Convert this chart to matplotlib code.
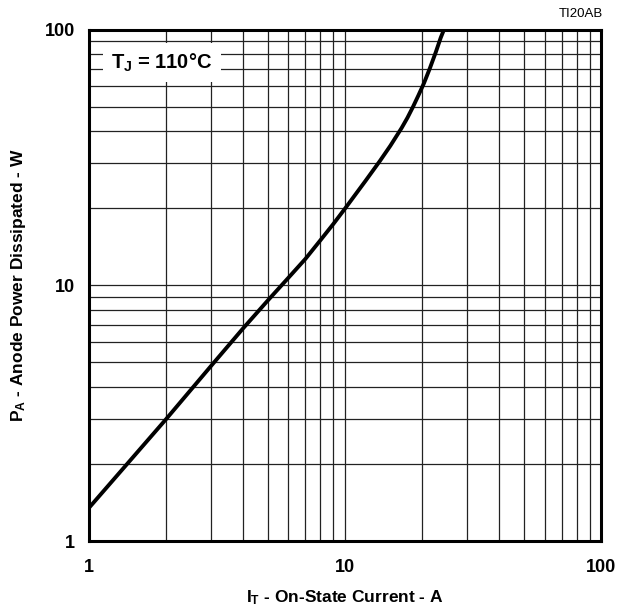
"""
Anode power dissipated vs on-state current (TI20AB), log-log chart.
"""

import matplotlib
matplotlib.use('Agg')
import matplotlib.pyplot as plt
from matplotlib.ticker import LogLocator, FixedFormatter, FixedLocator, NullFormatter

# Data
on_state_current = [1, 2, 3, 4, 5, 6, 7, 8, 9, 10, 12, 13.65, 15, 16.6, 17.5, 18.4,
                    19.3, 20.3, 21.4, 22.6, 23.6, 24.5]
power_dissipated = [1.35, 3.0, 4.85, 6.8, 8.75, 10.7, 12.7, 15.0, 17.4, 20.0, 25.6, 30.6,
                    35.1, 41.2, 45.2, 49.9, 55.2, 61.7, 70.5, 81.8, 92.9, 102]

x_ticks = [1, 10, 100]
x_tick_labels = ['1', '10', '100']
y_ticks = [1, 10, 100]
y_tick_labels = ['1', '10', '100']

FONT = 'Liberation Sans'
plt.rcParams['font.family'] = [FONT, 'DejaVu Sans']
plt.rcParams['mathtext.fontset'] = 'custom'
plt.rcParams['mathtext.rm'] = f'{FONT}:bold'
plt.rcParams['mathtext.it'] = f'{FONT}:bold'
plt.rcParams['mathtext.bf'] = f'{FONT}:bold'

fig = plt.figure(figsize=(6.2, 6.15), dpi=100)
ax = fig.add_axes([0.1435, 0.12, 0.8265, 0.832])

ax.set_xscale('log')
ax.set_yscale('log')
ax.set_xlim(1, 100)
ax.set_ylim(1, 100)

# grid: decades plus 2..9 subdivisions
ax.xaxis.set_major_locator(FixedLocator(x_ticks))
ax.yaxis.set_major_locator(FixedLocator(y_ticks))
ax.xaxis.set_major_formatter(FixedFormatter(x_tick_labels))
ax.yaxis.set_major_formatter(FixedFormatter(y_tick_labels))
ax.xaxis.set_minor_locator(LogLocator(base=10, subs=range(2, 10)))
ax.yaxis.set_minor_locator(LogLocator(base=10, subs=range(2, 10)))
ax.xaxis.set_minor_formatter(NullFormatter())
ax.yaxis.set_minor_formatter(NullFormatter())
ax.grid(True, which='both', color='#222222', linewidth=0.9)
ax.set_axisbelow(True)

ax.tick_params(which='both', length=0)
ax.tick_params(axis='x', pad=13, labelsize=13)
ax.tick_params(axis='y', pad=10, labelsize=13)
for lbl in ax.get_xticklabels() + ax.get_yticklabels():
    lbl.set_fontweight('bold')

for s in ax.spines.values():
    s.set_linewidth(2.2)
    s.set_color('black')

ax.plot(on_state_current, power_dissipated, color='black', linewidth=2.8,
        solid_joinstyle='round', solid_capstyle='butt', zorder=3, clip_on=True)

ax.set_xlabel(r'$I_T$ - On-State Current - A', fontsize=12.5, fontweight='bold', labelpad=9)
ax.set_ylabel(r'$P_A$ - Anode Power Dissipated - W', fontsize=12.5, fontweight='bold', labelpad=12)

ax.text(0.043, 0.935, r'$T_J$ = 110°C', transform=ax.transAxes, fontsize=14.5,
        fontweight='bold', ha='left', va='center', zorder=4,
        bbox=dict(facecolor='white', edgecolor='none', pad=6))

fig.text(0.972, 0.977, 'TI20AB', ha='right', va='center', fontsize=9.5)

fig.savefig('out.png', dpi=100, facecolor='white')
